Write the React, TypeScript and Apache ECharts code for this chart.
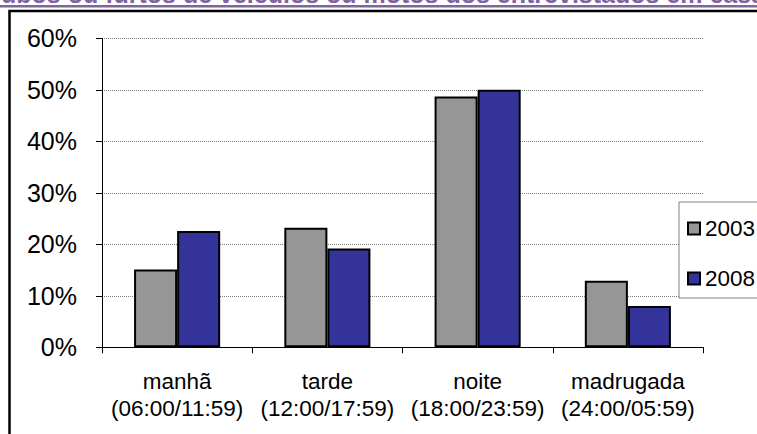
import React, { useEffect, useRef } from "react";
import * as echarts from "echarts";

const categories = [
  "manhã\n(06:00/11:59)",
  "tarde\n(12:00/17:59)",
  "noite\n(18:00/23:59)",
  "madrugada\n(24:00/05:59)",
];
const seriesNames = ["2003", "2008"];
const values2003 = [15.1, 23.2, 48.7, 12.9];
const values2008 = [22.6, 19.2, 50.0, 8.0];
const titleText = "roubos ou furtos de veículos ou motos dos entrevistados em casa";

const FONT = "'Liberation Sans', Arial, Helvetica, sans-serif";

export default function App() {
  const ref = useRef<HTMLDivElement>(null);
  useEffect(() => {
    if (!ref.current) return;
    const chart = echarts.init(ref.current, undefined, { renderer: "svg" });
    chart.setOption({
      animation: false,
      backgroundColor: "#ffffff",
      textStyle: { fontFamily: FONT },
      grid: { left: 102, right: 54, top: 38.3, bottom: 86.7, containLabel: false },
      legend: {
        orient: "vertical",
        left: 679,
        top: 202,
        padding: [15, 40, 8, 8],
        itemGap: 27,
        itemWidth: 12,
        itemHeight: 12,
        icon: "rect",
        borderColor: "#808080",
        borderWidth: 1,
        backgroundColor: "#ffffff",
        textStyle: { fontSize: 22.5, color: "#000000", fontFamily: FONT },
        data: seriesNames,
      },
      xAxis: {
        type: "category",
        data: categories,
        axisLine: { lineStyle: { color: "#000000", width: 1 } },
        axisTick: { show: true, length: 6, lineStyle: { color: "#000000" } },
        axisLabel: {
          color: "#000000",
          fontSize: 22.5,
          lineHeight: 27,
          margin: 21,
          fontFamily: FONT,
          interval: 0,
        },
      },
      yAxis: {
        type: "value",
        min: 0,
        max: 60,
        interval: 10,
        axisLine: { show: true, lineStyle: { color: "#000000", width: 1 } },
        axisTick: { show: true, length: 6, lineStyle: { color: "#000000" } },
        axisLabel: {
          formatter: "{value}%",
          color: "#000000",
          fontSize: 25,
          margin: 25,
          fontFamily: FONT,
        },
        splitLine: { show: true, lineStyle: { color: "#808080", type: "dotted", width: 1 } },
      },
      series: [
        {
          name: seriesNames[0],
          type: "bar",
          data: values2003,
          barGap: "0%",
          barCategoryGap: "42.7%",
          itemStyle: { color: "#969696", borderColor: "#000000", borderWidth: 2 },
        },
        {
          name: seriesNames[1],
          type: "bar",
          data: values2008,
          barGap: "0%",
          barCategoryGap: "42.7%",
          itemStyle: { color: "#333399", borderColor: "#000000", borderWidth: 2 },
        },
      ],
      graphic: [
        {
          type: "text",
          x: -24,
          y: -6,
          silent: true,
          style: {
            text: titleText,
            fill: "#8064A2",
            font: `bold 25px ${FONT}`,
            verticalAlign: "middle",
            align: "left",
          },
        },
        {
          type: "rect",
          silent: true,
          shape: { x: 0, y: 5, width: 757, height: 2.5 },
          style: { fill: "#8064A2" },
        },
        {
          type: "rect",
          silent: true,
          shape: { x: 9.5, y: 11, width: 900, height: 600 },
          style: { fill: "none", stroke: "#000000", lineWidth: 2.5 },
        },
      ],
    });
    return () => chart.dispose();
  }, []);
  return (
    <div
      ref={ref}
      style={{ position: "absolute", left: 0, top: 0, width: 757, height: 434 }}
    />
  );
}
